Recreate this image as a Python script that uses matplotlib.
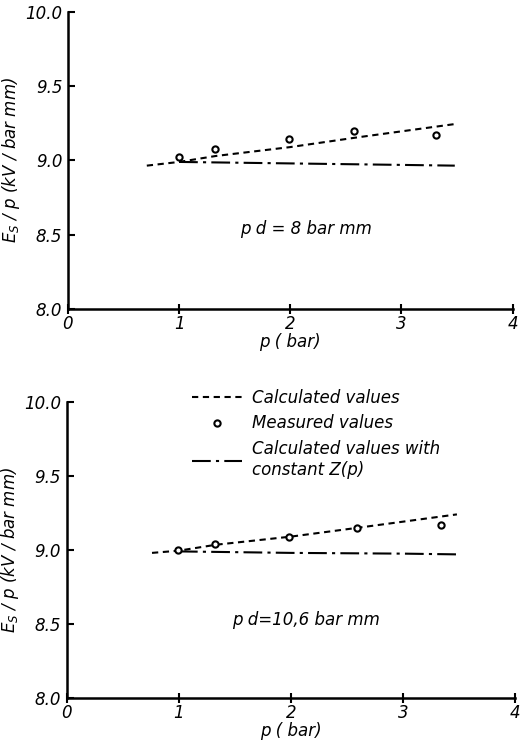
import matplotlib
matplotlib.use("Agg")
import matplotlib.pyplot as plt
from matplotlib.lines import Line2D

plt.rcParams['font.family'] = ['DejaVu Sans']
plt.rcParams['font.style'] = 'italic'

# Panel 1: pd = 8 bar mm
p_meas_1 = [1.0, 1.32, 1.99, 2.57, 3.31]
v_meas_1 = [9.02, 9.075, 9.145, 9.20, 9.17]
p_calc_1 = [0.71, 1.0, 1.33, 2.0, 2.6, 3.48]
v_calc_1 = [8.965, 8.99, 9.03, 9.09, 9.155, 9.245]
p_const_1 = [1.0, 2.0, 3.0, 3.48]
v_const_1 = [8.99, 8.98, 8.97, 8.965]

# Panel 2: pd = 10.6 bar mm
p_meas_2 = [0.99, 1.32, 1.98, 2.59, 3.34]
v_meas_2 = [9.0, 9.04, 9.09, 9.15, 9.165]
p_calc_2 = [0.76, 1.0, 1.33, 2.0, 2.6, 3.48]
v_calc_2 = [8.98, 8.995, 9.035, 9.09, 9.15, 9.24]
p_const_2 = [1.0, 2.0, 3.0, 3.48]
v_const_2 = [8.99, 8.98, 8.975, 8.97]

x_ticks = [0, 1, 2, 3, 4]
x_ticklabels = ['0', '1', '2', '3', '4']
y_ticks = [8.0, 8.5, 9.0, 9.5, 10.0]
y_ticklabels = ['8.0', '8.5', '9.0', '9.5', '10.0']

labels = ['Calculated values', 'Measured values',
          'Calculated values with\nconstant Z(p)']
annot = ['p d = 8 bar mm', 'p d=10,6 bar mm']
ylabel = '$E_S$ / p (kV / bar mm)'
xlabel = 'p ( bar)'

fig = plt.figure(figsize=(5.22, 7.48), dpi=100)
ax1 = fig.add_axes([0.130, 0.5870, 0.852, 0.397])
ax2 = fig.add_axes([0.128, 0.0668, 0.859, 0.396])

dash = (0, (3.0, 2.2))
dashdot = (0, (9, 2.5, 1.5, 2.5))

panels = [
    (ax1, p_meas_1, v_meas_1, p_calc_1, v_calc_1, p_const_1, v_const_1, annot[0], (2.14, 8.54)),
    (ax2, p_meas_2, v_meas_2, p_calc_2, v_calc_2, p_const_2, v_const_2, annot[1], (2.13, 8.53)),
]
for ax, pm, vm, pc, vc, pk, vk, txt, pos in panels:
    ax.plot(pc, vc, color='black', lw=1.5, linestyle=dash)
    ax.plot(pk, vk, color='black', lw=1.5, linestyle=dashdot)
    ax.plot(pm, vm, linestyle='none', marker='o', ms=4.5, mfc='white',
            mec='black', mew=1.5)
    ax.set_xlim(0, 4)
    ax.set_ylim(8.0, 10.0)
    ax.set_xticks(x_ticks)
    ax.set_xticklabels(x_ticklabels)
    ax.set_yticks(y_ticks)
    ax.set_yticklabels(y_ticklabels)
    ax.tick_params(axis='x', direction='inout', length=7, width=1.5, labelsize=12, pad=1)
    ax.tick_params(axis='y', direction='in', length=5, width=1.5, labelsize=12, pad=4)
    for s in ['top', 'right']:
        ax.spines[s].set_visible(False)
    for s in ['left', 'bottom']:
        ax.spines[s].set_linewidth(1.8)
    ax.set_xlabel(xlabel, fontsize=12, labelpad=0)
    ax.set_ylabel(ylabel, fontsize=12, labelpad=2)
    ax.text(pos[0], pos[1], txt, fontsize=12, ha='center', va='center')

handles = [
    Line2D([], [], color='black', lw=1.5, linestyle=dash),
    Line2D([], [], linestyle='none', marker='o', ms=4.5, mfc='white', mec='black', mew=1.5),
    Line2D([], [], color='black', lw=1.5, linestyle=dashdot),
]
fig.legend(handles, labels, loc='upper left', bbox_to_anchor=(0.34, 0.5),
           frameon=False, fontsize=12, handlelength=3.0, handletextpad=0.6,
           labelspacing=0.45)

fig.savefig('out.png', dpi=100)
